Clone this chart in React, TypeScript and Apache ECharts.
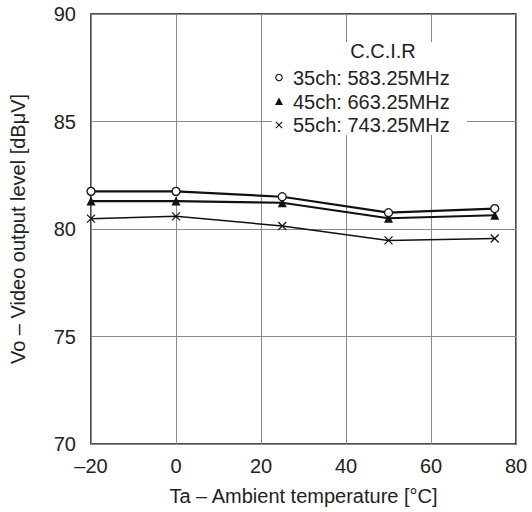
import React, { useEffect, useRef } from "react";
import * as echarts from "echarts";

const temperatures = [-20, 0, 25, 50, 75];
const ch35 = [81.75, 81.75, 81.5, 80.76, 80.95];
const ch45 = [81.3, 81.3, 81.22, 80.5, 80.64];
const ch55 = [80.48, 80.59, 80.14, 79.47, 79.56];
const legendTitle = "C.C.I.R";
const seriesNames = ["35ch: 583.25MHz", "45ch: 663.25MHz", "55ch: 743.25MHz"];
const xName = "Ta – Ambient temperature [°C]";
const yName = "Vo – Video output level [dBμV]";

const FONT = "'Liberation Sans', Arial, Helvetica, sans-serif";
const FS = 20;
const CROSS = "path://M0,0L10,10M10,0L0,10";

export default function App() {
  const ref = useRef<HTMLDivElement>(null);
  useEffect(() => {
    if (!ref.current) return;
    const chart = echarts.init(ref.current, null, { renderer: "svg" });
    const pair = (ys: number[]) => temperatures.map((t, i) => [t, ys[i]]);
    const lx = 279;
    const rows = [77.5, 101.5, 125];
    chart.setOption({
      animation: false,
      backgroundColor: "#fff",
      textStyle: { fontFamily: FONT },
      grid: {
        left: 86,
        right: 16,
        top: 14,
        bottom: 68,
        show: true,
        borderColor: "#111",
        borderWidth: 1.5,
        backgroundColor: "transparent",
      },
      xAxis: {
        type: "value",
        min: -20,
        max: 80,
        interval: 20,
        name: xName,
        nameLocation: "middle",
        nameGap: 42,
        nameTextStyle: { fontSize: FS, color: "#222", fontFamily: FONT },
        axisLine: { show: false },
        axisTick: { show: false },
        axisLabel: {
          fontSize: FS,
          color: "#222",
          margin: 12,
          fontFamily: FONT,
          formatter: (v: number) => String(v).replace("-", "–"),
        },
        splitLine: { show: true, lineStyle: { color: "#8a8a8a", width: 1 } },
      },
      yAxis: {
        type: "value",
        min: 70,
        max: 90,
        interval: 5,
        name: yName,
        nameLocation: "middle",
        nameGap: 63,
        nameTextStyle: { fontSize: FS, color: "#222", fontFamily: FONT },
        axisLine: { show: false },
        axisTick: { show: false },
        axisLabel: { fontSize: FS, color: "#222", margin: 15, fontFamily: FONT },
        splitLine: { show: true, lineStyle: { color: "#8a8a8a", width: 1 } },
      },
      series: [
        {
          name: seriesNames[0],
          type: "line",
          data: pair(ch35),
          symbol: "circle",
          symbolSize: 8,
          itemStyle: { color: "#fff", borderColor: "#111", borderWidth: 1.3 },
          lineStyle: { color: "#111", width: 2.2 },
          z: 4,
        },
        {
          name: seriesNames[1],
          type: "line",
          data: pair(ch45),
          symbol: "triangle",
          symbolSize: 9,
          itemStyle: { color: "#111" },
          lineStyle: { color: "#111", width: 2.2 },
          z: 3,
        },
        {
          name: seriesNames[2],
          type: "line",
          data: pair(ch55),
          symbol: CROSS,
          symbolSize: 8,
          itemStyle: { color: "#111", borderColor: "#111", borderWidth: 1.2 },
          lineStyle: { color: "#111", width: 1.5 },
          z: 2,
        },
      ],
      graphic: [
        {
          type: "rect",
          shape: { x: 272, y: 42, width: 195, height: 93 },
          style: { fill: "#fff" },
          z: 10,
        },
        {
          type: "text",
          x: 383,
          y: 50.5,
          style: {
            text: legendTitle,
            fontSize: FS,
            fontFamily: FONT,
            fill: "#222",
            align: "center",
            verticalAlign: "middle",
          },
          z: 11,
        },
        ...seriesNames.map((n, i) => ({
          type: "text",
          x: 293,
          y: rows[i],
          style: {
            text: n,
            fontSize: FS,
            fontFamily: FONT,
            fill: "#222",
            align: "left",
            verticalAlign: "middle",
          },
          z: 11,
        })),
        {
          type: "circle",
          shape: { cx: lx, cy: rows[0], r: 3.2 },
          style: { fill: "#fff", stroke: "#111", lineWidth: 1.1 },
          z: 11,
        },
        {
          type: "polygon",
          shape: { points: [[lx, rows[1] - 4], [lx + 4, rows[1] + 3.5], [lx - 4, rows[1] + 3.5]] },
          style: { fill: "#111" },
          z: 11,
        },
        {
          type: "line",
          shape: { x1: lx - 3.2, y1: rows[2] - 3.2, x2: lx + 3.2, y2: rows[2] + 3.2 },
          style: { stroke: "#111", lineWidth: 1.1 },
          z: 11,
        },
        {
          type: "line",
          shape: { x1: lx + 3.2, y1: rows[2] - 3.2, x2: lx - 3.2, y2: rows[2] + 3.2 },
          style: { stroke: "#111", lineWidth: 1.1 },
          z: 11,
        },
      ],
    });
    return () => chart.dispose();
  }, []);
  return (
    <div
      ref={ref}
      style={{ position: "fixed", left: 0, top: 0, width: 532, height: 512 }}
    />
  );
}
